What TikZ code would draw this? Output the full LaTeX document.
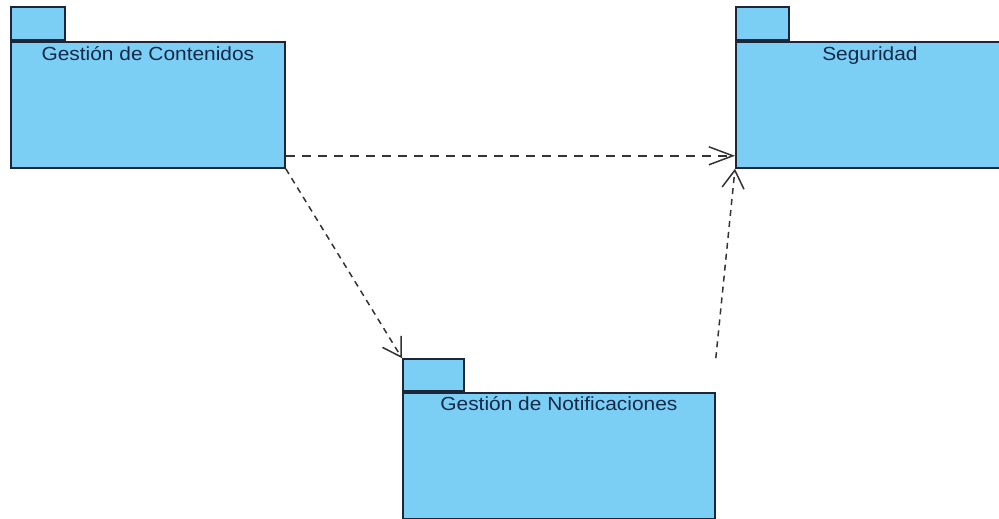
\documentclass[tikz,border=0pt]{standalone}
\usepackage{fontspec}
\newfontfamily\pkgfont[FakeStretch=1.1]{Liberation Sans}
\usepackage{tikz}
\usetikzlibrary{arrows.meta}
\usetikzlibrary{positioning}

\definecolor{pkgfill}{RGB}{123,207,245}
\definecolor{pkgline}{RGB}{28,38,56}
\definecolor{pkgtext}{RGB}{22,40,72}

\begin{document}
\begin{tikzpicture}[x=1pt, y=-1pt,
                pkgbody/.style={draw=pkgline, fill=pkgfill, line width=1.8pt,
                        inner sep=0pt, anchor=north west},
                pkgtab/.style={pkgbody, anchor=south west},
                pkgname/.style={inner sep=0pt, text height=14pt, text depth=4pt,
                        text=pkgtext, font=\pkgfont\fontsize{19}{22}\selectfont},
                dep/.style={draw=black!80, line width=1.5pt, dash pattern=on 6pt off 5pt,
                        -{Straight Barb[length=18pt, width=22pt]}},
            ]
            \useasboundingbox (0,0) rectangle (999,519);

            % packages: body first, then the tab on top of its corner
            \node[pkgbody, minimum width=274pt, minimum height=126pt] (contenidos) at (10,41) {};
            \node[pkgtab, minimum width=54pt, minimum height=33pt] (contenidos_tab) at (contenidos.north west) {};
            \node[pkgname, below=5pt of contenidos.north] (contenidos_name) {Gestión de Contenidos};

            \node[pkgbody, minimum width=268pt, minimum height=126pt] (seguridad) at (735,41) {};
            \node[pkgtab, minimum width=53pt, minimum height=33pt] (seguridad_tab) at (seguridad.north west) {};
            \node[pkgname, below=5pt of seguridad.north] (seguridad_name) {Seguridad};

            \node[pkgbody, minimum width=312pt, minimum height=126pt] (notif) at (402,392) {};
            \node[pkgtab, minimum width=61pt, minimum height=32pt] (notif_tab) at (notif.north west) {};
            \node[pkgname, below=4pt of notif.north] (notif_name) {Gestión de Notificaciones};

            % dependencies
            \draw[dep, dash pattern=on 9pt off 7pt, -{Straight Barb[length=24pt, width=18pt]}]
                ([yshift=13pt]contenidos.south east) -- ([yshift=13pt]seguridad.south west);
            \draw[dep] (contenidos.south east) -- (notif_tab.north west);
            \draw[dep] (notif.east |- notif_tab.north) -- (seguridad.south west);
        \end{tikzpicture}
\end{document}
